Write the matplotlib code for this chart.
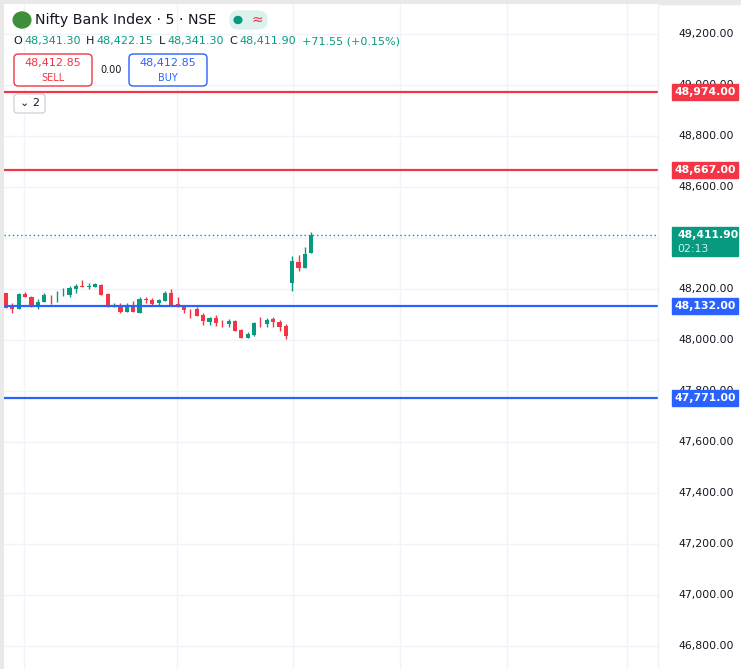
import matplotlib
matplotlib.use("Agg")
import matplotlib.pyplot as plt
from matplotlib.patches import Rectangle, FancyBboxPatch, Circle

opens  = [48185,48133,48123,48180,48167,48138,48150,48176,48175,48175,48176,48199,48212,48206,48209,48216,48180,48131,48138,48111,48138,48107,48162,48157,48144,48153,48186,48141,48131,48121,48121,48098,48072,48088,48072,48063,48076,48039,48009,48020,48064,48061,48084,48072,48055,48225,48305,48284,48341.3]
highs  = [48186,48144,48183,48188,48172,48159,48186,48176,48193,48203,48212,48220,48235,48222,48225,48220,48183,48144,48144,48144,48154,48167,48167,48163,48162,48193,48201,48167,48137,48121,48128,48104,48091,48098,48078,48081,48078,48042,48031,48072,48089,48085,48089,48078,48063,48329,48333,48363,48422.15]
lows   = [48124,48107,48120,48167,48131,48123,48150,48141,48150,48172,48170,48183,48206,48199,48206,48178,48131,48128,48107,48111,48111,48107,48146,48137,48138,48153,48136,48128,48107,48088,48095,48059,48060,48055,48052,48050,48037,48009,48009,48016,48050,48052,48050,48037,48003,48193,48272,48284,48341.3]
closes = [48124,48123,48180,48167,48137,48149,48176,48175,48178,48178,48204,48212,48206,48212,48220,48178,48131,48138,48111,48138,48111,48161,48157,48141,48157,48186,48138,48128,48118,48120,48095,48076,48088,48068,48069,48076,48037,48009,48023,48068,48061,48078,48072,48052,48017,48310,48281,48337,48411.9]
level_prices = [48974, 48667, 48132, 47771]
level_kinds = ["red", "red", "blue", "blue"]
last_price = 48411.90
tick_prices = [46800, 47000, 47200, 47400, 47600, 47800, 48000, 48200, 48400, 48600, 48800, 49000, 49200]

GREEN = "#089981"; RED = "#F23645"; BLUE = "#2962FF"; TXT = "#131722"; GRID = "#F0F3FA"
W, H = 741, 669
fig = plt.figure(figsize=(W/100, H/100), dpi=100)
fig.patch.set_facecolor("white")
fig.add_artist(Rectangle((0, 1-4/H), 1, 4/H, transform=fig.transFigure, color="#E9E9EA", zorder=0))
fig.add_artist(Rectangle((0, 0), 4/W, 1, transform=fig.transFigure, color="#E9E9EA", zorder=0))

ax = fig.add_axes([4/W, 0, (658-4)/W, (H-4)/H])
ax.set_xlim(-0.31, 102.5)
ax.set_ylim(46709.5, 49317.7)
for s in ax.spines.values():
    s.set_visible(False)
ax.set_xticks([]); ax.set_yticks([])
for p in tick_prices:
    ax.axhline(p, color=GRID, lw=1, zorder=0)
for xp in [24, 177, 293, 400, 507, 627]:
    ax.axvline(-0.31 + (xp-4)/6.36, color=GRID, lw=1, zorder=0)

for i, (o, h, l, c) in enumerate(zip(opens, highs, lows, closes)):
    col = GREEN if c >= o else RED
    ax.plot([i, i], [l, h], color=col, lw=1, zorder=3, solid_capstyle="butt")
    bot, top = min(o, c), max(o, c)
    ax.add_patch(Rectangle((i-0.33, bot), 0.66, max(top-bot, 2), color=col, zorder=4, lw=0))

ax.axhline(last_price, color=GREEN, lw=1, ls=(0, (1, 2)), zorder=2)
for p, k in zip(level_prices, level_kinds):
    ax.axhline(p, color=RED if k == "red" else BLUE, lw=1.6, zorder=5)

fig.add_artist(plt.Line2D([658/W, 658/W], [0, 1-4/H], color=GRID, lw=1))
def ypx(price):
    return 34 + (49200 - price) / 3.922
def ftext(x, y, s, **kw):
    return fig.text(x/W, 1-y/H, s, **kw)
hidden = [p for p in tick_prices if any(abs(ypx(p) - ypx(q)) < 14 for q in level_prices + [last_price])]
for p in tick_prices:
    t = ftext(734, ypx(p), f"{p:,.2f}", ha="right", va="center", fontsize=7.8, color=TXT, zorder=5)
def box(y0, hgt, col):
    fig.add_artist(Rectangle((672/W, 1-(y0+hgt)/H), (738-672)/W, hgt/H, transform=fig.transFigure, color=col, zorder=10))
for p, k in zip(level_prices, level_kinds):
    y = ypx(p)
    box(y-8, 16, RED if k == "red" else BLUE)
    ftext(705, y, f"{p:,.2f}", ha="center", va="center", fontsize=7.8, color="white", weight="bold", zorder=11)
y = ypx(last_price)
box(y-8, 29, GREEN)
ftext(677, y, f"{last_price:,.2f}", ha="left", va="center", fontsize=7.8, color="white", weight="bold", zorder=11)
ftext(677, y+14, "02:13", ha="left", va="center", fontsize=7.8, color="#D5F0EA", zorder=11)

# header
fig.add_artist(Circle((22/W, 1-20/H), 8/H, transform=fig.transFigure, color="#3F8E3A", zorder=10))
ftext(35, 20, "Nifty Bank Index · 5 · NSE", ha="left", va="center", fontsize=10.2, color=TXT)
fig.add_artist(FancyBboxPatch((230/W, 1-29/H), 37/W, 18/H, boxstyle="round,pad=0,rounding_size=0.012",
                              transform=fig.transFigure, color="#DDF2EF", zorder=10))
fig.add_artist(Circle((238/W, 1-20/H), 3.5/H, transform=fig.transFigure, color=GREEN, zorder=11))
ftext(257, 20, "≈", ha="center", va="center", fontsize=10, color=RED, zorder=11)
hdr = [("O", TXT), ("48,341.30", GREEN), ("H", TXT), ("48,422.15", GREEN), ("L", TXT), ("48,341.30", GREEN),
       ("C", TXT), ("48,411.90", GREEN), ("+71.55 (+0.15%)", GREEN)]
xs = [13, 24, 86, 96, 159, 167, 229, 239, 302]
for (s, c), x in zip(hdr, xs):
    ftext(x, 41, s, ha="left", va="center", fontsize=8.0, color=c)
fig.add_artist(FancyBboxPatch((14/W, 1-86/H), 78/W, 32/H, boxstyle="round,pad=0,rounding_size=0.006",
                              transform=fig.transFigure, facecolor="white", edgecolor=RED, lw=1, zorder=10))
ftext(53, 63, "48,412.85", ha="center", va="center", fontsize=8, color=RED, zorder=11)
ftext(53, 78, "SELL", ha="center", va="center", fontsize=7, color=RED, zorder=11)
ftext(111, 70, "0.00", ha="center", va="center", fontsize=7, color=TXT)
fig.add_artist(FancyBboxPatch((129/W, 1-86/H), 78/W, 32/H, boxstyle="round,pad=0,rounding_size=0.006",
                              transform=fig.transFigure, facecolor="white", edgecolor=BLUE, lw=1, zorder=10))
ftext(168, 63, "48,412.85", ha="center", va="center", fontsize=8, color=BLUE, zorder=11)
ftext(168, 78, "BUY", ha="center", va="center", fontsize=7, color=BLUE, zorder=11)
fig.add_artist(FancyBboxPatch((14/W, 1-113/H), 31/W, 19/H, boxstyle="round,pad=0,rounding_size=0.004",
                              transform=fig.transFigure, facecolor="white", edgecolor="#D1D4DC", lw=1, zorder=10))
ftext(30, 103, "⌄ 2", ha="center", va="center", fontsize=8, color=TXT, zorder=11)

fig.savefig("out.png", dpi=100)
